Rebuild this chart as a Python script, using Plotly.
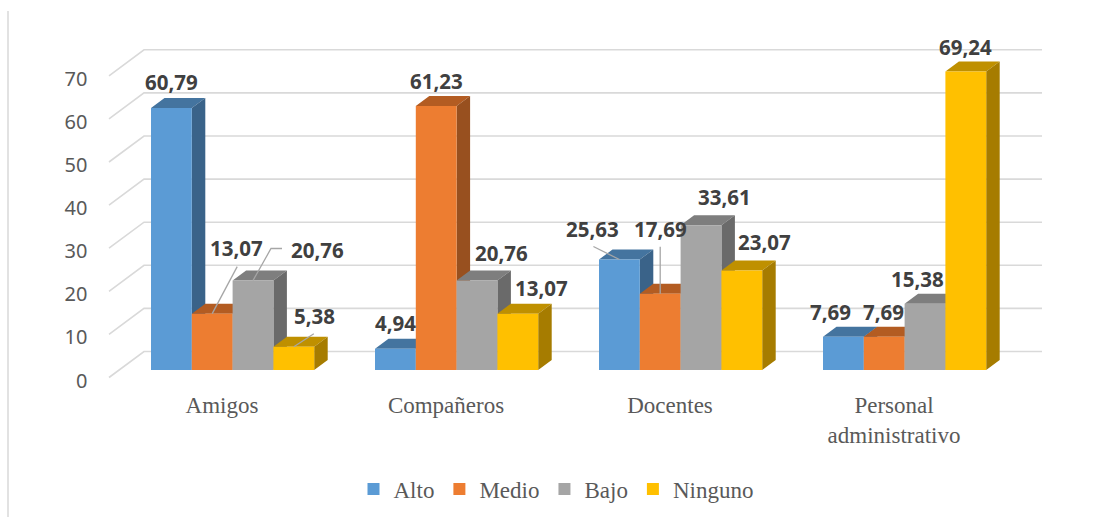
import plotly.graph_objects as go

# ---- data ----
categories = ["Amigos", "Compañeros", "Docentes", "Personal<br>administrativo"]
series_names = ["Alto", "Medio", "Bajo", "Ninguno"]
alto = [60.79, 4.94, 25.63, 7.69]
medio = [13.07, 61.23, 17.69, 7.69]
bajo = [20.76, 20.76, 33.61, 15.38]
ninguno = [5.38, 13.07, 23.07, 69.24]
y_ticks = [0, 10, 20, 30, 40, 50, 60, 70]

# ---- styles ----
front = ["#5B9BD5", "#ED7D31", "#A5A5A5", "#FFC000"]
top_c = ["#44749F", "#B35C22", "#7E7E7E", "#BF9000"]
side_c = ["#3A6389", "#98501F", "#6A6A6A", "#A67C00"]
GRID = "#D9D9D9"

W, H = 1099, 517
PX_PER_UNIT_X = 224.0      # px per category
PX_PER_UNIT_Y = 4.31       # px per value unit
X0_PX, Y0_PX = 222.0, 377.5  # pixel of first category label / of value 0 on the front wall
BAR_W_PX = 40.8
FIRST_BAR_OFFSET_PX = -71.0
FLOOR_PX = 7.5             # bars stand this far behind the front of the floor
DEPTH = (13.5, 10.0)       # bar depth, px
WALL = (35.0, 26.0)        # floor depth, px
GRID_LEFT_PX, GRID_RIGHT_PX = 109.0, 1042.0

xr = [(0 - X0_PX) / PX_PER_UNIT_X, (W - X0_PX) / PX_PER_UNIT_X]
yr = [-(H - Y0_PX) / PX_PER_UNIT_Y, Y0_PX / PX_PER_UNIT_Y]
ux = lambda px: px / PX_PER_UNIT_X
uy = lambda px: px / PX_PER_UNIT_Y
floor = uy(FLOOR_PX)
bw = ux(BAR_W_PX)

# label offset from the top centre of its bar, px (right, up)
label_off = [
    [(0, 26), (24.5, 65.7), (64, 30.5), (21, 31)],
    [(0, 26), (0, 25), (24, 28), (24, 26)],
    [(-27, 30.5), (0, 65), (23, 28), (23, 28.6)],
    [(-13, 25), (-1, 25), (-8, 25), (0, 25)],
]
# leader lines from the top centre of a bar, px (right, up)
leaders = {
    (0, 1): [(0, 0), (25, 47)],
    (0, 2): [(0, 0), (12, 21), (18, 32), (29, 32)],
    (0, 3): [(0, 0), (20, 13)],
    (2, 0): [(0, 0), (-26, 13)],
    (2, 1): [(0, 0), (0, 47)],
}

values = [alto, medio, bajo, ninguno]
fig = go.Figure()

# back wall and floor lines
gx, gy = [], []
x_left = xr[0] + ux(GRID_LEFT_PX)
x_right = xr[0] + ux(GRID_RIGHT_PX)
for t in y_ticks:
    gx += [x_left, x_left + ux(WALL[0]), x_right, None]
    gy += [t, t + uy(WALL[1]), t + uy(WALL[1]), None]
fig.add_trace(go.Scatter(x=gx, y=gy, mode="lines", line=dict(color=GRID, width=1.6),
                         hoverinfo="skip", showlegend=False))


def bar_left(g, s):
    return g + ux(FIRST_BAR_OFFSET_PX + BAR_W_PX * s)


# depth faces, painted left to right
dx, dy = ux(DEPTH[0]), uy(DEPTH[1])
for s, vals in enumerate(values):
    tx, ty, sx, sy = [], [], [], []
    for g, v in enumerate(vals):
        l = bar_left(g, s)
        r = l + bw
        t = floor + v
        tx += [l, r, r + dx, l + dx, l, None]
        ty += [t, t, t + dy, t + dy, t, None]
        sx += [r, r + dx, r + dx, r, r, None]
        sy += [floor, floor + dy, t + dy, t, floor, None]
    for fx, fy, c in ((tx, ty, top_c[s]), (sx, sy, side_c[s])):
        fig.add_trace(go.Scatter(x=fx, y=fy, mode="lines", fill="toself", fillcolor=c,
                                 line=dict(width=0, color=c), hoverinfo="skip", showlegend=False))

# front faces, on an overlaying pair of axes so that they cover the depth faces
for s, vals in enumerate(values):
    fig.add_trace(go.Bar(
        name=series_names[s],
        x=[bar_left(g, s) + bw / 2 for g in range(len(vals))],
        y=vals, base=floor, width=bw,
        marker=dict(color=front[s], line=dict(width=0)),
        xaxis="x2", yaxis="y2",
    ))

# leader lines above the bars
lx, ly = [], []
for (g, s), pts in leaders.items():
    cx = bar_left(g, s) + bw / 2
    cy = floor + values[s][g]
    for px, py in pts:
        lx.append(cx + ux(px))
        ly.append(cy + uy(py))
    lx.append(None)
    ly.append(None)
fig.add_trace(go.Scatter(x=lx, y=ly, mode="lines", line=dict(color="#A6A6A6", width=1.3),
                         hoverinfo="skip", showlegend=False, xaxis="x2", yaxis="y2"))

# data labels
for s, vals in enumerate(values):
    for g, v in enumerate(vals):
        ox, oy = label_off[g][s]
        fig.add_annotation(
            x=bar_left(g, s) + bw / 2, y=floor + v, xref="x2", yref="y2",
            text=f"{v:.2f}".replace(".", ","), showarrow=False,
            xanchor="center", yanchor="middle", xshift=ox, yshift=oy,
            font=dict(family="Noto Sans", size=20.5, color="#404040", weight="bold"),
        )

fig.update_layout(
    width=W, height=H,
    margin=dict(l=0, r=0, t=0, b=0),
    paper_bgcolor="white", plot_bgcolor="white",
    barmode="overlay",
    showlegend=True,
    legend=dict(orientation="h", x=556 / W, xanchor="center", y=(H - 489) / H, yanchor="middle",
                font=dict(family="Liberation Serif", size=23, color="#595959"),
                bgcolor="rgba(0,0,0,0)"),
    xaxis=dict(range=xr, tickmode="array", tickvals=list(range(len(categories))),
               ticktext=categories, anchor="free", position=(H - 389) / H,
               showgrid=False, zeroline=False, showline=False, ticks="",
               tickfont=dict(family="Liberation Serif", size=23, color="#595959")),
    yaxis=dict(range=yr, tickmode="array", tickvals=y_ticks, anchor="free", position=87.5 / W,
               showgrid=False, zeroline=False, showline=False, ticks="", ticklabelshift=3,
               tickfont=dict(family="Noto Sans", size=20, color="#595959")),
    xaxis2=dict(range=xr, overlaying="x", visible=False),
    yaxis2=dict(range=yr, overlaying="y", visible=False),
    shapes=[dict(type="line", xref="paper", yref="paper", x0=8 / W, x1=8 / W,
                 y0=0, y1=(H - 11) / H, line=dict(color=GRID, width=1.5))],
)

fig.write_html("out.html", config={"displayModeBar": False},
               post_script="document.body.style.margin='0';document.body.style.overflow='hidden';")
